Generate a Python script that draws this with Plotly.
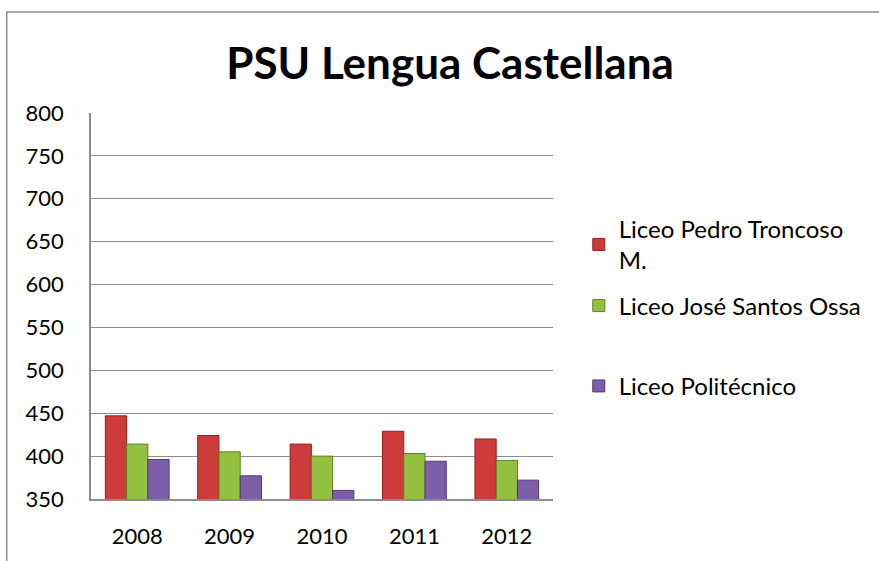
import plotly.graph_objects as go

years = ["2008", "2009", "2010", "2011", "2012"]
pedro = [447, 424, 414, 429, 420]
jose = [414, 405, 400, 403, 395]
poli = [396, 377, 360, 394, 372]
yticks = [350, 400, 450, 500, 550, 600, 650, 700, 750, 800]

W, H = 879, 561
L, R, T, B = 91, 557, 113, 507
pw, ph = R - L, B - T

def px(x):
    return (x - L) / pw

def py(y):
    return (B - y) / ph

FONT = "Lato"

fig = go.Figure()
series = [
    ("Liceo Pedro Troncoso<br>M.", pedro, "#CD3B3B", "#8E2426", "legend"),
    ("Liceo José Santos Ossa", jose, "#94C03F", "#5F7F22", "legend2"),
    ("Liceo Politécnico", poli, "#7C5FA8", "#4F3B73", "legend3"),
]
for name, vals, col, lc, lg in series:
    fig.add_trace(go.Bar(
        x=years, y=vals, name=name, legend=lg,
        marker=dict(color=col, line=dict(color=lc, width=1)),
    ))

leg_common = dict(
    xanchor="left", yanchor="middle", bgcolor="rgba(0,0,0,0)",
    font=dict(family=FONT, size=24, color="#000"), itemwidth=30,
    x=px(583),
)

fig.update_layout(
    width=W, height=H,
    margin=dict(l=L, r=W - R, t=T, b=H - B, pad=0),
    paper_bgcolor="white", plot_bgcolor="white",
    barmode="group", bargap=0.31, bargroupgap=0,
    title=dict(text="<b>PSU Lengua Castellana</b>", xref="container", x=450 / W,
               xanchor="center", yref="container", y=1 - 64 / H, yanchor="middle",
               font=dict(family=FONT, size=44, color="#000")),
    legend=dict(y=py(247.5), **leg_common),
    legend2=dict(y=py(310), **leg_common),
    legend3=dict(y=py(392), **leg_common),
    showlegend=True,
    xaxis=dict(showgrid=False, showline=True, linecolor="#8c8c8c", linewidth=1.5,
               ticks="", tickfont=dict(family=FONT, size=22, color="#000"),
               ticklabelstandoff=17),
    yaxis=dict(range=[350, 800], tickvals=yticks, ticktext=[str(v) for v in yticks],
               showgrid=True, gridcolor="#8c8c8c", gridwidth=1,
               showline=True, linecolor="#8c8c8c", linewidth=1.5,
               ticks="", tickfont=dict(family=FONT, size=22, color="#000"),
               ticklabelstandoff=21, zeroline=False),
    shapes=[dict(type="rect", xref="paper", yref="paper",
                 x0=px(6), x1=px(900), y0=py(600), y1=py(10),
                 line=dict(color="#8c8c8c", width=1.5), layer="below")],
)

fig.write_html("out.html", config={"displayModeBar": False},
               post_script="document.body.style.margin='0';document.body.style.overflow='hidden';")
